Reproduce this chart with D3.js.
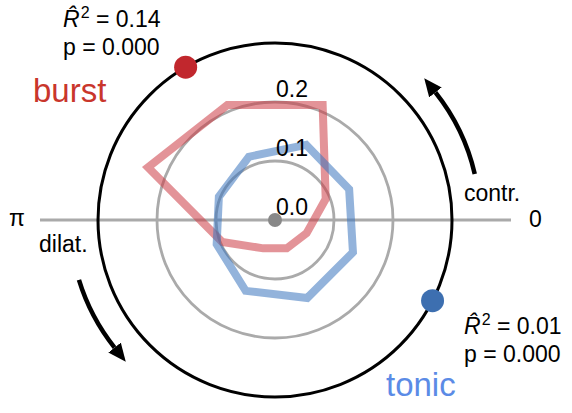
<!DOCTYPE html>
<html>
<head>
<meta charset="utf-8">
<script src="https://cdn.jsdelivr.net/npm/d3@7"></script>
<style>
  html, body { margin: 0; padding: 0; background: #fff; }
  svg { display: block; font-family: "Liberation Sans", Arial, Helvetica, sans-serif; }
</style>
</head>
<body>
<svg id="chart" width="572" height="413"></svg>
<script>
// ---- data ----
const binAnglesDeg = [22.5, 67.5, 112.5, 157.5, 202.5, 247.5, 292.5, 337.5];
const burstValues = [0.093, 0.211, 0.211, 0.233, 0.097, 0.052, 0.052, 0.058];
const tonicValues = [0.136, 0.138, 0.116, 0.103, 0.107, 0.130, 0.143, 0.143];
const seriesNames = ["burst", "tonic"];
const meanPhases = [2.10, 5.81];          // radians, 0 = right, counter-clockwise
const rSquared = ["0.14", "0.01"];
const pValues = ["0.000", "0.000"];
const gridLevels = [0.1, 0.2];
const tickLabels = ["0.0", "0.1", "0.2"];
const tickValues = [0.0, 0.1, 0.2];
const phaseLabels = ["0", "π"];
const directionLabels = ["contr.", "dilat."];

// ---- layout ----
const svg = d3.select("#chart");
const cx = 275, cy = 220, outerR = 177, arrowR = 205;
const rScale = d3.scaleLinear().domain([0, 0.2]).range([0, 118]);
const toRad = d => d * Math.PI / 180;
// math angle (ccw from right) -> d3 radial angle (cw from top)
const d3Angle = th => Math.PI / 2 - th;

const g = svg.append("g").attr("transform", `translate(${cx},${cy})`);

// horizontal axis line
g.append("line")
  .attr("x1", 40 - cx).attr("x2", 511 - cx).attr("y1", 0).attr("y2", 0)
  .attr("stroke", "#aaaaaa").attr("stroke-width", 3);

// outer black circle
g.append("circle").attr("r", outerR).attr("fill", "none")
  .attr("stroke", "#000").attr("stroke-width", 3);

// grid circles
g.selectAll("circle.grid").data(gridLevels).enter().append("circle")
  .attr("class", "grid").attr("r", d => rScale(d))
  .attr("fill", "none").attr("stroke", "#aaaaaa").attr("stroke-width", 2.8);

// series polygons
const radial = d3.lineRadial()
  .angle((d, i) => d3Angle(toRad(binAnglesDeg[i])))
  .radius(d => rScale(d))
  .curve(d3.curveLinearClosed);

const seriesLine = [
  { vals: burstValues, color: "#cc3b43" },
  { vals: tonicValues, color: "#3a74bd" }
];
seriesLine.forEach(s => {
  g.append("path").attr("d", radial(s.vals))
    .attr("fill", "none").attr("stroke", s.color)
    .attr("stroke-opacity", 0.55).attr("stroke-width", 8)
    .attr("stroke-linejoin", "miter");
});

// center dot
g.append("circle").attr("r", 7).attr("fill", "#888888");

// radial tick labels
g.selectAll("text.tick").data(tickValues).enter().append("text")
  .attr("class", "tick")
  .attr("x", 1).attr("y", d => -rScale(d) - 5)
  .attr("font-size", 23).attr("fill", "#000")
  .text((d, i) => tickLabels[i]);

// mean-phase dots
const dotColors = ["#c1272d", "#3d6fb0"];
g.selectAll("circle.mean").data(meanPhases).enter().append("circle")
  .attr("class", "mean")
  .attr("cx", d => outerR * Math.cos(d))
  .attr("cy", d => -outerR * Math.sin(d))
  .attr("r", 11.5).attr("fill", (d, i) => dotColors[i]);

// direction arrows
const defs = svg.append("defs");
defs.append("marker").attr("id", "ah")
  .attr("markerUnits", "userSpaceOnUse")
  .attr("viewBox", "0 -8 18 16").attr("refX", 0).attr("refY", 0)
  .attr("markerWidth", 18).attr("markerHeight", 16).attr("orient", "auto")
  .append("path").attr("d", "M0,-8L18,0L0,8Z").attr("fill", "#000");

const arrowSpans = [[13, 38.5], [197, 218.5]];
arrowSpans.forEach(a => {
  const p = d3.path();
  p.arc(0, 0, arrowR, -toRad(a[0]), -toRad(a[1]), true);
  g.append("path").attr("d", p.toString())
    .attr("fill", "none").attr("stroke", "#000").attr("stroke-width", 4.5)
    .attr("marker-end", "url(#ah)");
});

// phase labels
svg.append("text").attr("x", 529).attr("y", 227).attr("font-size", 23).text(phaseLabels[0]);
svg.append("text").attr("x", 9).attr("y", 226).attr("font-size", 23).text(phaseLabels[1]);
svg.append("text").attr("x", 464).attr("y", 201).attr("font-size", 23).text(directionLabels[0]);
svg.append("text").attr("x", 39).attr("y", 252).attr("font-size", 23).text(directionLabels[1]);

// series names
svg.append("text").attr("x", 33).attr("y", 102).attr("font-size", 33)
  .attr("fill", "#c9362c").text(seriesNames[0]);
svg.append("text").attr("x", 386).attr("y", 396).attr("font-size", 33)
  .attr("fill", "#5b8be6").text(seriesNames[1]);

// statistics (R with combining circumflex = R-hat)
function stats(x, y, r2, p) {
  const t = svg.append("text").attr("x", x).attr("y", y).attr("font-size", 23);
  t.append("tspan").attr("font-style", "italic").text("R\u0302");
  t.append("tspan").attr("font-size", 16).attr("dy", -9).attr("dx", 1).text("2");
  t.append("tspan").attr("dy", 9).text(" = " + r2);
  svg.append("text").attr("x", x).attr("y", y + 28).attr("font-size", 23)
    .text("p = " + p);
}
stats(63, 27, rSquared[0], pValues[0]);
stats(464, 334, rSquared[1], pValues[1]);
</script>
</body>
</html>
